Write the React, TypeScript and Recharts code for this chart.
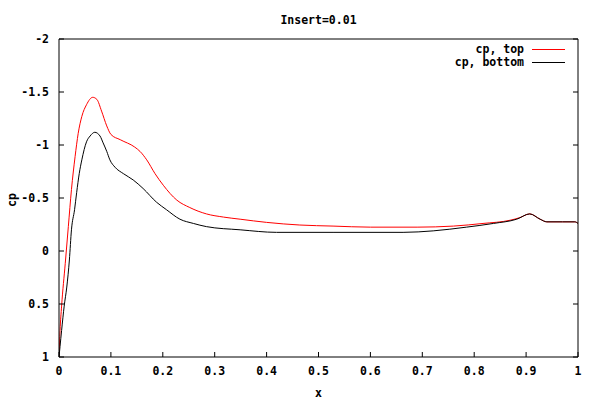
import { LineChart, Line, XAxis, YAxis, Legend } from "recharts";

// pressure coefficient along the chord
const xTop = [0, 0.002, 0.005, 0.012, 0.018, 0.024, 0.031, 0.037, 0.044, 0.053, 0.065, 0.073, 0.082, 0.092, 0.1, 0.118, 0.146, 0.156, 0.169, 0.185, 0.201, 0.227, 0.252, 0.284, 0.317, 0.349, 0.4, 0.464, 0.528, 0.6, 0.69, 0.76, 0.817, 0.869, 0.888, 0.907, 0.927, 0.94, 0.97, 0.994, 1.0];
const cpTop = [1.0, 0.75, 0.52, 0.12, -0.23, -0.58, -0.89, -1.11, -1.27, -1.38, -1.45, -1.43, -1.32, -1.18, -1.1, -1.05, -0.98, -0.94, -0.86, -0.73, -0.62, -0.48, -0.41, -0.35, -0.32, -0.3, -0.27, -0.245, -0.235, -0.225, -0.225, -0.235, -0.26, -0.29, -0.315, -0.35, -0.3, -0.275, -0.275, -0.275, -0.26];

const xBottom = [0, 0.002, 0.005, 0.01, 0.015, 0.02, 0.024, 0.03, 0.034, 0.039, 0.044, 0.053, 0.06, 0.069, 0.079, 0.085, 0.092, 0.098, 0.108, 0.124, 0.143, 0.162, 0.188, 0.207, 0.233, 0.259, 0.284, 0.349, 0.419, 0.528, 0.663, 0.721, 0.785, 0.837, 0.882, 0.907, 0.927, 0.94, 0.97, 0.994, 1.0];
const cpBottom = [1.0, 0.9, 0.75, 0.52, 0.34, 0.085, -0.2, -0.39, -0.55, -0.73, -0.86, -1.03, -1.085, -1.12, -1.085, -1.02, -0.94, -0.86, -0.79, -0.73, -0.67, -0.59, -0.46, -0.39, -0.3, -0.26, -0.23, -0.2, -0.176, -0.176, -0.176, -0.19, -0.225, -0.26, -0.3, -0.35, -0.3, -0.275, -0.275, -0.275, -0.26];

const xTicks = [0, 0.1, 0.2, 0.3, 0.4, 0.5, 0.6, 0.7, 0.8, 0.9, 1];
const yTicks = [-2, -1.5, -1, -0.5, 0, 0.5, 1];

const series = [
  { name: "cp, top", color: "#ff0000" },
  { name: "cp, bottom", color: "#000000" },
];

const topData = xTop.map((x, i) => ({ x, cp: cpTop[i] }));
const bottomData = xBottom.map((x, i) => ({ x, cp: cpBottom[i] }));

const FONT = "'DejaVu Sans Mono', monospace";
const FS = 11.5;
const tickStyle = { fill: "#000", fontSize: FS, fontWeight: "bold", fontFamily: FONT };
const labelStyle = { fill: "#000", fontSize: FS, fontWeight: "bold", fontFamily: FONT };

const renderLegend = () => (
  <div style={{ fontFamily: FONT, fontSize: FS, fontWeight: "bold", color: "#000" }}>
    {series.map((s) => (
      <div key={s.name} style={{ display: "flex", justifyContent: "flex-end", alignItems: "center", height: 13, lineHeight: "13px" }}>
        <span style={{ whiteSpace: "pre" }}>{s.name}</span>
        <span style={{ width: 33, height: 1, marginLeft: 8, background: s.color }} />
      </div>
    ))}
  </div>
);

// vertical "cp" label, reading upwards, left of the tick labels
const CpLabel = (props: any) => {
  const vb = props.viewBox || {};
  const cx = (vb.x || 0) + 12;
  const cy = (vb.y || 0) + (vb.height || 0) / 2 + 2;
  return (
    <text
      x={cx}
      y={cy}
      transform={`rotate(-90, ${cx}, ${cy})`}
      textAnchor="middle"
      dominantBaseline="central"
      style={labelStyle}
      fill="#000"
    >
      cp
    </text>
  );
};

export default function App() {
  return (
    <div style={{ position: "absolute", left: 0, top: 0, width: 600, height: 400, background: "#fff" }}>
      <LineChart width={600} height={400} margin={{ top: 38, right: 21, bottom: 0, left: 0 }}>
        <XAxis
          dataKey="x"
          type="number"
          domain={[0, 1]}
          ticks={xTicks}
          tickFormatter={(v) => String(v)}
          height={43}
          tickSize={-5}
          tickMargin={15}
          tick={tickStyle}
          stroke="#000"
          allowDataOverflow
          label={{ value: "x", position: "insideBottom", offset: 3, style: labelStyle }}
        />
        <XAxis
          xAxisId="top"
          orientation="top"
          type="number"
          domain={[0, 1]}
          ticks={xTicks}
          tickFormatter={() => ""}
          height={1}
          tickSize={-5}
          stroke="#000"
          allowDataOverflow
          label={{ value: "Insert=0.01", position: "top", offset: 14, style: labelStyle }}
        />
        <YAxis
          type="number"
          domain={[-2, 1]}
          reversed
          ticks={yTicks}
          tickFormatter={(v) => String(v)}
          width={59}
          tickSize={-5}
          tickMargin={15}
          tick={tickStyle}
          stroke="#000"
          allowDataOverflow
          label={<CpLabel />}
        />
        <YAxis
          yAxisId="right"
          orientation="right"
          type="number"
          domain={[-2, 1]}
          reversed
          ticks={yTicks}
          tickFormatter={() => ""}
          width={1}
          tickSize={-5}
          stroke="#000"
          allowDataOverflow
        />
        <Legend
          layout="vertical"
          align="center"
          verticalAlign="middle"
          content={renderLegend}
          wrapperStyle={{ top: 43, left: 400, width: 165, height: 26 }}
        />
        <Line
          data={topData}
          dataKey="cp"
          name={series[0].name}
          type="monotone"
          stroke={series[0].color}
          strokeWidth={1}
          dot={false}
          isAnimationActive={false}
        />
        <Line
          data={bottomData}
          dataKey="cp"
          name={series[1].name}
          type="monotone"
          stroke={series[1].color}
          strokeWidth={1}
          dot={false}
          isAnimationActive={false}
        />
      </LineChart>
    </div>
  );
}
